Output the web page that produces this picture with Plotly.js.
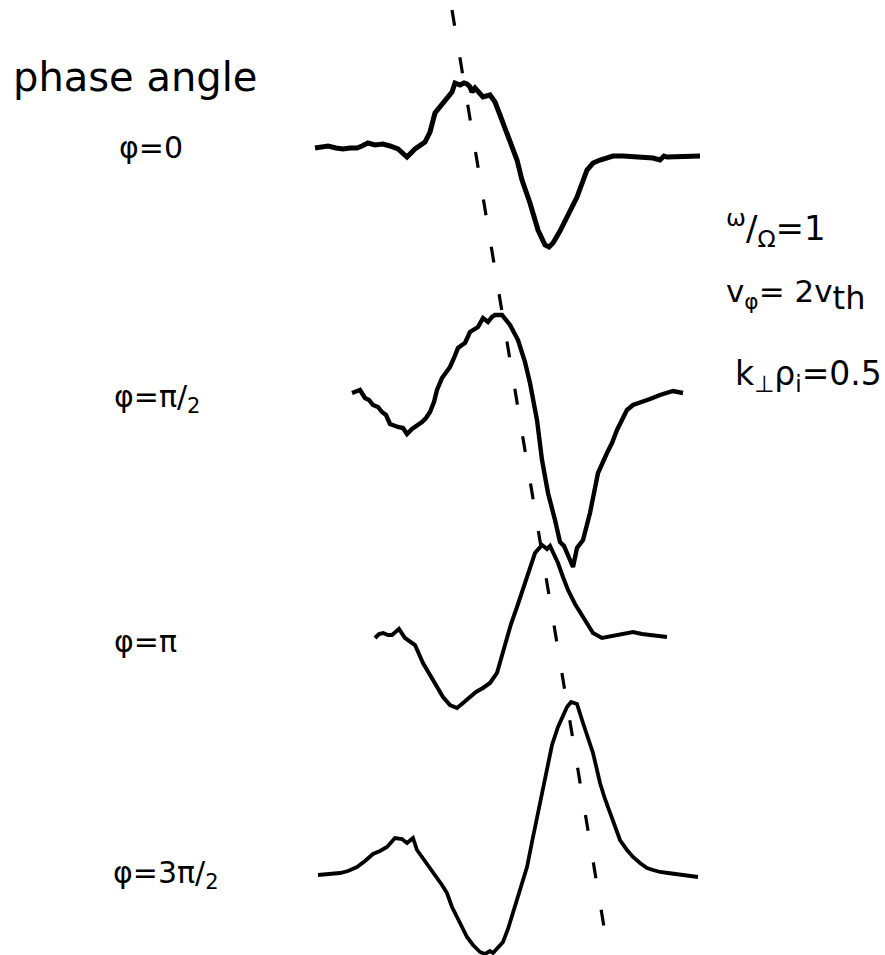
<!DOCTYPE html>
<html>
<head>
<meta charset="utf-8">
<script src="https://cdn.plot.ly/plotly-3.0.1.min.js"></script>
<style>
  html, body { margin: 0; padding: 0; background: #ffffff; }
  #chart { width: 885px; height: 955px; }
</style>
</head>
<body>
<div id="chart"></div>
<script>
// Wave-packet traces recorded at four phase angles of the driving wave.
// x: position along the probe path; amp: signal amplitude about each trace's baseline.

const phaseLabels = ["φ=0", "φ=π/<sub>2</sub>", "φ=π", "φ=3π/<sub>2</sub>"];

// Vertical offset of each trace's baseline
const baselines = [798, 555, 318, 80];

// φ = 0
const x0 = [315, 322, 328, 336, 343, 350, 357, 362, 368, 375, 383, 390, 398, 407, 415, 425, 430, 435, 443, 452, 455, 460, 464, 467, 470, 472, 475, 480, 483, 490, 495, 500, 508, 517, 522, 530, 538, 545, 549, 553, 560, 567, 577, 587, 593, 600, 613, 623, 633, 643, 653, 660, 664, 667, 672, 680, 690, 700];
const amp0 = [9, 10, 11, 9, 8, 9, 9, 11, 14, 12, 13, 11, 8, 0, 8, 15, 25, 44, 54, 65, 74, 72, 74, 73, 70, 65, 69, 63, 60, 62, 55, 42, 22, -3, -23, -46, -73, -88, -90, -86, -74, -60, -40, -13, -6, -3, 1, 1, 0, 0, -1, -3, 1, 0, 0, 0, 0, 1];

// φ = π/2
const x1 = [352, 356, 360, 365, 369, 373, 378, 382, 386, 390, 394, 398, 403, 407, 412, 417, 422, 426, 430, 434, 437, 442, 446, 450, 454, 458, 462, 465, 470, 474, 478, 483, 488, 492, 495, 502, 510, 518, 525, 530, 537, 542, 548, 555, 560, 564, 567, 573, 577, 583, 590, 598, 607, 612, 617, 627, 633, 640, 650, 660, 667, 673, 683];
const amp1 = [7, 8, 10, 2, 0, -5, -7, -12, -15, -24, -26, -27, -28, -34, -29, -26, -22, -18, -12, -2, 10, 22, 27, 33, 42, 52, 55, 57, 68, 70, 73, 82, 78, 83, 85, 85, 75, 60, 38, 17, -20, -60, -93, -120, -142, -146, -153, -167, -148, -140, -113, -73, -53, -43, -30, -10, -5, -3, 1, 5, 7, 9, 7];

// φ = π
const x2 = [375, 379, 383, 388, 392, 396, 399, 405, 410, 415, 423, 428, 433, 438, 443, 450, 457, 463, 470, 476, 483, 490, 497, 505, 511, 517, 522, 527, 531, 535, 542, 547, 550, 554, 558, 563, 568, 575, 582, 588, 593, 602, 607, 613, 623, 633, 642, 650, 667];
const amp2 = [-1, 3, 4, 2, 2, 6, 8, -1, -4, -8, -26, -35, -43, -52, -60, -68, -71, -66, -60, -55, -51, -46, -36, -6, 13, 30, 45, 60, 72, 84, 92, 88, 91, 82, 74, 60, 47, 33, 22, 11, 4, -1, 0, 2, 4, 5, 3, 2, 0];

// φ = 3π/2
const x3 = [318, 330, 340, 348, 357, 365, 373, 380, 387, 395, 402, 407, 413, 417, 422, 427, 432, 437, 442, 447, 452, 456, 460, 467, 473, 480, 485, 490, 493, 498, 503, 508, 513, 520, 527, 532, 537, 542, 547, 552, 558, 563, 567, 571, 577, 583, 588, 593, 597, 600, 605, 610, 615, 620, 627, 633, 640, 647, 653, 660, 668, 677, 688, 698];
const amp3 = [0, 1, 2, 4, 8, 14, 21, 24, 28, 37, 36, 32, 37, 25, 18, 12, 5, -2, -10, -18, -32, -40, -48, -62, -70, -77, -79, -76, -78, -73, -67, -54, -38, -15, 8, 33, 58, 83, 108, 130, 148, 160, 168, 173, 171, 152, 138, 122, 105, 92, 76, 62, 48, 35, 25, 18, 12, 7, 5, 3, 2, 1, 0, -2];

// Dashed line joining the pulse maxima
const frontX = [452, 607];
const frontY = [945, 10];

const traceX = [x0, x1, x2, x3];
const traceAmp = [amp0, amp1, amp2, amp3];
const traceWidth = [5, 4.4, 4, 3.8];

const data = traceX.map((xs, i) => ({
  type: "scatter",
  mode: "lines",
  x: xs,
  y: traceAmp[i].map(a => baselines[i] + a),
  line: { color: "#000000", width: traceWidth[i], shape: "linear" },
  hoverinfo: "skip",
  showlegend: false
}));

data.push({
  type: "scatter",
  mode: "lines",
  x: frontX,
  y: frontY,
  line: { color: "#000000", width: 3.2, dash: "16px,32px" },
  hoverinfo: "skip",
  showlegend: false
});

const font = "DejaVu Sans, sans-serif";
const labelY = [808, 557, 314, 81];
const labelX = [117, 112, 112, 111];

const annotations = phaseLabels.map((t, i) => ({
  x: labelX[i], y: labelY[i], xref: "x", yref: "y",
  text: t, showarrow: false, xanchor: "left", yanchor: "middle",
  font: { family: font, size: 30, color: "#000000" }
}));

annotations.push(
  { x: 11, y: 878, xref: "x", yref: "y", text: "phase angle", showarrow: false,
    xanchor: "left", yanchor: "middle", font: { family: font, size: 40, color: "#000000" } },
  { x: 724, y: 727, xref: "x", yref: "y",
    text: "<sup>ω</sup>/<sub>Ω</sub>=1",
    showarrow: false, xanchor: "left", yanchor: "middle",
    font: { family: font, size: 34, color: "#000000" } },
  { x: 724, y: 660, xref: "x", yref: "y",
    text: "v<sub>φ</sub>= 2v<sub><span style=\"font-size:32px\">th</span></sub>",
    showarrow: false, xanchor: "left", yanchor: "middle",
    font: { family: font, size: 31, color: "#000000" } },
  { x: 733, y: 580, xref: "x", yref: "y", text: "k<sub>⊥</sub>ρ<sub>i</sub>=0.5", showarrow: false,
    xanchor: "left", yanchor: "middle", font: { family: font, size: 33, color: "#000000" } }
);

const layout = {
  width: 885,
  height: 955,
  margin: { l: 0, r: 0, t: 0, b: 0, pad: 0 },
  paper_bgcolor: "#ffffff",
  plot_bgcolor: "#ffffff",
  xaxis: { range: [0, 885], visible: false, fixedrange: true },
  yaxis: { range: [0, 955], visible: false, fixedrange: true },
  annotations: annotations,
  showlegend: false
};

Plotly.newPlot("chart", data, layout, { displayModeBar: false, staticPlot: true });
</script>
</body>
</html>
